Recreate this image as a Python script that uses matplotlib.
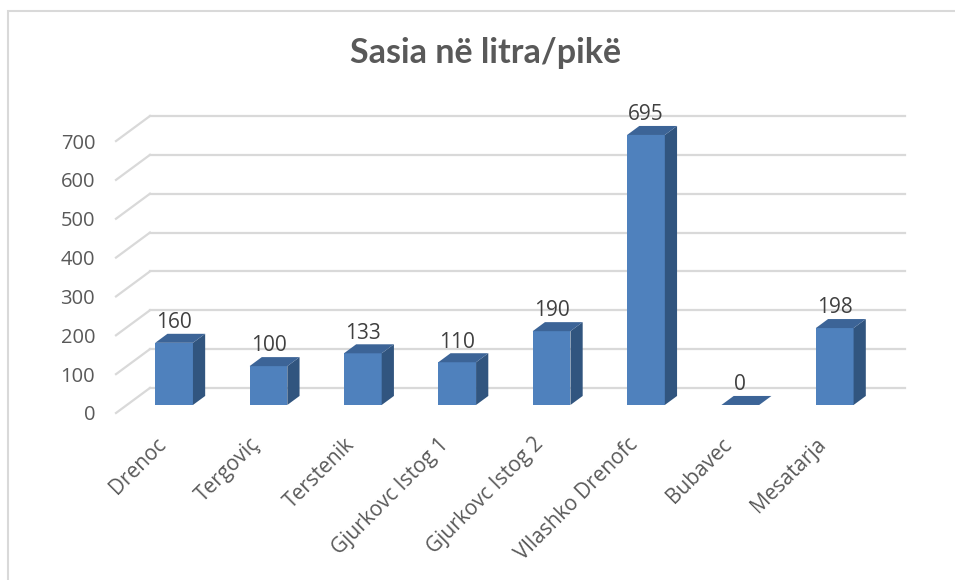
import matplotlib
matplotlib.use("Agg")
import matplotlib.pyplot as plt
import matplotlib.transforms as mtransforms
from matplotlib.patches import Polygon, Rectangle

# data
categories = ["Drenoc", "Tergoviç", "Terstenik", "Gjurkovc Istog 1",
              "Gjurkovc Istog 2", "Vllashko Drenofc", "Bubavec", "Mesatarja"]
values = [160, 100, 133, 110, 190, 695, 0, 198]
yticks = [0, 100, 200, 300, 400, 500, 600, 700]
title = "Sasia në litra/pikë"

# fake 3d: full depth of the plot box, in data units
DX = 0.36
DY = 64.5
D_FRONT = 0.32   # where the bar front face sits (fraction of depth)
D_BACK = 0.68
BAR_W = 0.40

FRONT = "#4f81bd"
TOP = "#3c6497"
SIDE = "#31557f"
GRID = "#d9d9d9"
TXT = "#595959"

plt.rcParams['font.family'] = ['Open Sans', 'DejaVu Sans']

fig = plt.figure(figsize=(9.55, 5.8), dpi=100)
ax = fig.add_axes([116/955, (580-413)/580, 789/955, 297/580])
ax.set_xlim(-0.5, 7.5 + DX)
ax.set_ylim(0, yticks[-1] + DY)

# outer chart border
fig.patches.append(Rectangle((8/955, -0.05), 1.2, 1.05 - 11/580 , transform=fig.transFigure,
                             fill=False, edgecolor=GRID, lw=1.5))

# back wall gridlines and left wall diagonals
for v in yticks:
    ax.plot([-0.5 + DX, 7.5 + DX], [v + DY, v + DY], color=GRID, lw=1.6, clip_on=False, zorder=1)
    ax.plot([-0.5, -0.5 + DX], [v, v + DY], color=GRID, lw=1.6, clip_on=False, zorder=1)

# bars
fx = DX * D_FRONT
fy = DY * D_FRONT
ddx = DX * (D_BACK - D_FRONT)
ddy = DY * (D_BACK - D_FRONT)
for i, v in enumerate(values):
    x0 = i + fx - BAR_W / 2
    x1 = i + fx + BAR_W / 2
    y0 = fy
    y1 = fy + v
    if v > 0:
        ax.bar(i + fx, v, bottom=fy, width=BAR_W, color=FRONT, zorder=3)
        ax.add_patch(Polygon([(x1, y0), (x1 + ddx, y0 + ddy), (x1 + ddx, y1 + ddy), (x1, y1)],
                             closed=True, color=SIDE, zorder=3, lw=0))
    ax.add_patch(Polygon([(x0, y1), (x1, y1), (x1 + ddx, y1 + ddy), (x0 + ddx, y1 + ddy)],
                         closed=True, color=TOP, zorder=3, lw=0))
    ax.annotate(str(v), (i + fx, y1 + ddy), xytext=(0, 0.5), textcoords="offset points",
                ha="center", va="bottom", fontsize=15, color="#404040", zorder=4)

ax.set_yticks(yticks)
ax.set_yticklabels([str(t) for t in yticks], fontsize=14.5, color=TXT)
ax.set_xticks(range(len(categories)))
ax.set_xticklabels(categories, fontsize=15, color=TXT, rotation=45,
                   ha="right", va="top", rotation_mode="anchor")
ax.tick_params(axis="y", length=0, pad=15)
ax.tick_params(axis="x", length=0, pad=15)
shift = mtransforms.ScaledTranslation(-8/100, 0, fig.dpi_scale_trans)
for lab in ax.get_xticklabels():
    lab.set_transform(lab.get_transform() + shift)
for s in ax.spines.values():
    s.set_visible(False)

fig.text(486/955, 1 - 53/580, title, ha="center", va="center",
         fontsize=24.5, fontweight="bold", color=TXT, family=['Lato', 'DejaVu Sans'])

fig.savefig("out.png", dpi=100)
